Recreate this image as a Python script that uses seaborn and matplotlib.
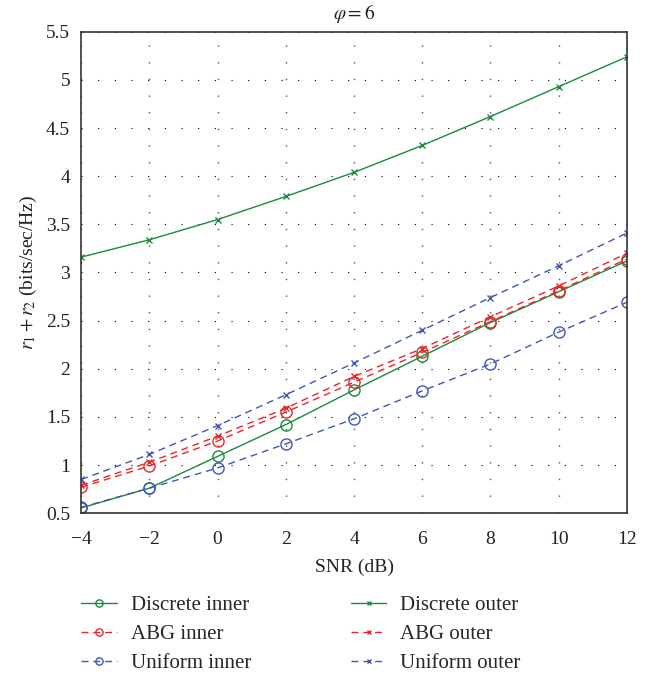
import numpy as np
import pandas as pd
import matplotlib
matplotlib.use('Agg')
import matplotlib.pyplot as plt
import seaborn as sns

# Données
snr = [-4, -2, 0, 2, 4, 6, 8, 10, 12]
discrete_inner = [0.555, 0.76, 1.09, 1.42, 1.78, 2.13, 2.48, 2.80, 3.12]
abg_inner = [0.77, 0.99, 1.25, 1.55, 1.86, 2.17, 2.49, 2.81, 3.14]
uniform_inner = [0.56, 0.76, 0.97, 1.22, 1.48, 1.77, 2.05, 2.38, 2.69]
discrete_outer = [3.16, 3.34, 3.55, 3.79, 4.04, 4.32, 4.62, 4.93, 5.24]
abg_outer = [0.79, 1.03, 1.30, 1.59, 1.92, 2.21, 2.54, 2.86, 3.20]
uniform_outer = [0.85, 1.11, 1.41, 1.73, 2.06, 2.40, 2.74, 3.07, 3.41]
yticks = [0.5, 1, 1.5, 2, 2.5, 3, 3.5, 4, 4.5, 5, 5.5]
ytick_labels = ['0.5', '1', '1.5', '2', '2.5', '3', '3.5', '4', '4.5', '5', '5.5']

sns.set_theme(style='white')
plt.rcParams['font.family'] = ['Liberation Serif', 'DejaVu Serif']
plt.rcParams['mathtext.fontset'] = 'stix'

green = '#1b8a3e'
red = '#e8262b'
blue = '#3f57b3'
dash = (0, (5, 3.5))

series = [
    ('Discrete inner', discrete_inner, green, '-', 'o'),
    ('ABG inner', abg_inner, red, dash, 'o'),
    ('Uniform inner', uniform_inner, blue, dash, 'o'),
    ('Discrete outer', discrete_outer, green, '-', 'x'),
    ('ABG outer', abg_outer, red, dash, 'x'),
    ('Uniform outer', uniform_outer, blue, dash, 'x'),
]

fig = plt.figure(figsize=(6.55, 6.77), dpi=100)
ax = fig.add_axes([0.124, 0.242, 0.833, 0.711])

for label, vals, col, ls, mk in series:
    df = pd.DataFrame({'snr': snr, 'rate': vals})
    if mk == 'o':
        sns.lineplot(data=df, x='snr', y='rate', ax=ax, color=col, linestyle=ls,
                     linewidth=1.0, marker='o', markersize=8, markerfacecolor='none',
                     markeredgecolor=col, markeredgewidth=1.0, label=label)
    else:
        sns.lineplot(data=df, x='snr', y='rate', ax=ax, color=col, linestyle=ls,
                     linewidth=1.0, marker='x', markersize=5, markeredgecolor=col,
                     markeredgewidth=1.0, label=label)

ax.set_xlim(-4, 12)
ax.set_ylim(0.5, 5.5)
ax.set_xticks(snr)
ax.set_xticklabels(['\u22124', '\u22122', '0', '2', '4', '6', '8', '10', '12'])
ax.set_yticks(yticks)
ax.set_yticklabels(ytick_labels)
# grille pointillée : horizontale noire, verticale grise
ax.yaxis.grid(True, color='black', linestyle=(0, (1, 14)), linewidth=0.8)
ax.xaxis.grid(True, color='#555555', linestyle=(0, (1, 11)), linewidth=1.0)
for sp in ax.spines.values():
    sp.set_color('#333333')
    sp.set_linewidth(1.2)
ax.tick_params(axis='both', labelsize=14, colors='#222222', length=5, width=1)
ax.tick_params(axis='x', direction='inout', pad=9, length=7)
ax.tick_params(axis='y', direction='out', pad=3)

ax.set_xlabel('SNR (dB)', fontsize=14, color='#222222', labelpad=8)
ax.set_ylabel(r'$r_1 + r_2$ (bits/sec/Hz)', fontsize=14, color='#222222', labelpad=5)
ax.set_title(r'$\varphi = 6$', fontsize=14, color='#222222', pad=9)

ax.legend(loc='upper left', bbox_to_anchor=(0.124, 0.12), bbox_transform=fig.transFigure,
          ncol=2, frameon=False, fontsize=15, handlelength=1.7, columnspacing=4.8,
          labelspacing=0.45, handletextpad=0.67, borderpad=0, borderaxespad=0,
          markerscale=0.65)

plt.savefig('out.png', dpi=100)
plt.close()
